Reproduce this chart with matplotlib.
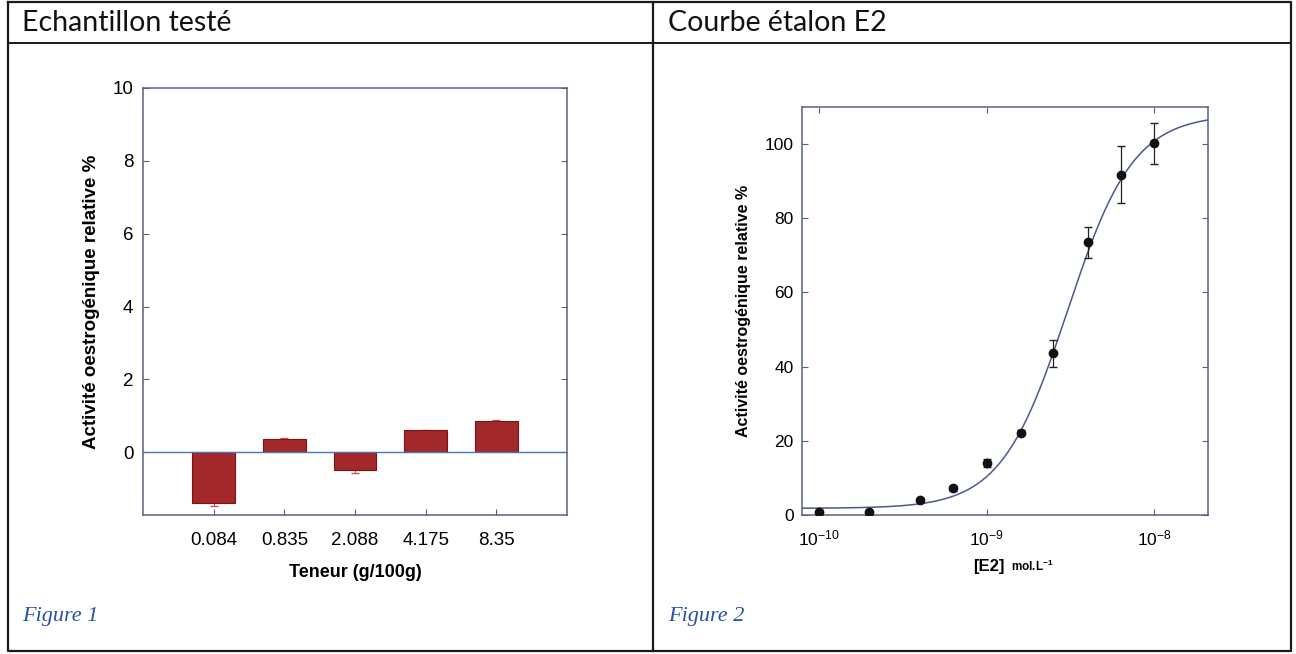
import numpy as np
import matplotlib
matplotlib.use("Agg")
import matplotlib.pyplot as plt

plt.rcParams['font.family'] = ['Liberation Sans', 'DejaVu Sans']
plt.rcParams['mathtext.default'] = 'regular'
plt.rcParams['axes.unicode_minus'] = False

# Figure 1 : échantillon testé
teneurs = ['0.084', '0.835', '2.088', '4.175', '8.35']
activite = [-1.39, 0.37, -0.48, 0.60, 0.85]
activite_err = [0.07, 0.03, 0.10, 0.02, 0.03]

# Figure 2 : courbe étalon E2
e2_conc = [1e-10, 2e-10, 4e-10, 6.3e-10, 1e-9, 1.6e-9, 2.5e-9, 4e-9, 6.3e-9, 1e-8]
e2_act = [0.9, 0.7, 4.0, 7.2, 14.0, 22.2, 43.6, 73.5, 91.7, 100.2]
e2_err = [0.3, 0.3, 0.5, 0.6, 1.0, 0.6, 3.6, 4.2, 7.7, 5.5]
# paramètres de l'ajustement logistique
fit_bas, fit_haut, fit_ec50, fit_hill = 1.8, 108.0, 3.03e-9, 2.2

W, H = 1296, 654
fig = plt.figure(figsize=(W / 100, H / 100), dpi=100)


def px_axes(l, t, r, b):
    return fig.add_axes([l / W, (H - b) / H, (r - l) / W, (b - t) / H])


# tableau (cadre)
bg = fig.add_axes([0, 0, 1, 1], zorder=-5)
bg.set_xlim(0, W)
bg.set_ylim(H, 0)
bg.axis('off')
lc = '#1a1a1a'
bg.plot([8, 1291, 1291, 8, 8], [2, 2, 651, 651, 2], color=lc, lw=1.6)
bg.plot([8, 1291], [43, 43], color=lc, lw=1.4)
bg.plot([653, 653], [2, 651], color=lc, lw=1.6)
bg.text(22, 23, 'Echantillon testé', fontsize=20.5, family='Lato', va='center', ha='left', color='#111')
bg.text(668, 23, 'Courbe étalon E2', fontsize=20.5, family='Lato', va='center', ha='left', color='#111')
bg.text(22, 616, 'Figure 1', fontsize=16, family='Liberation Serif', style='italic', va='center', color='#2a52a0')
bg.text(668, 616, 'Figure 2', fontsize=16, family='Liberation Serif', style='italic', va='center', color='#2a52a0')

spine_c = '#56627e'

# ---- Figure 1 : barres
ax1 = px_axes(143, 88, 567, 515)
pos = np.arange(1, len(teneurs) + 1)
ax1.errorbar(pos, activite, yerr=activite_err, fmt='none', ecolor='#d0505a', elinewidth=0.8, capsize=3, zorder=1)
ax1.bar(pos, activite, width=0.6, color='#a3282a', edgecolor='#7a1414', linewidth=0.8, zorder=2)
ax1.axhline(0, color='#4f73b8', lw=1, zorder=3)
ax1.set_xlim(0, 6)
ax1.set_ylim(-1.72, 10)
ax1.set_yticks([0, 2, 4, 6, 8, 10])
ax1.set_xticks(pos)
ax1.set_xticklabels(teneurs)
ax1.tick_params(axis='y', direction='in', left=True, right=True, length=4, labelsize=13.5, pad=7, color=spine_c)
ax1.tick_params(axis='x', direction='in', length=4, labelsize=13.5, pad=12, color=spine_c)
for s in ax1.spines.values():
    s.set_color(spine_c)
    s.set_linewidth(1.1)
ax1.set_xlabel('Teneur (g/100g)', fontsize=13, fontweight='bold', labelpad=11)
ax1.set_ylabel('Activité oestrogénique relative %', fontsize=13.5, fontweight='bold', labelpad=9)

# ---- Figure 2 : courbe étalon
ax2 = px_axes(802, 107, 1208, 515)
xs = np.logspace(-10.1, -7.68, 300)
ys = fit_bas + (fit_haut - fit_bas) / (1 + (fit_ec50 / xs) ** fit_hill)
ax2.plot(xs, ys, color='#4a5a8c', lw=1.1, zorder=2)
ax2.errorbar(e2_conc, e2_act, yerr=e2_err, fmt='o', color='#111111', ms=6,
             ecolor='#222222', elinewidth=0.9, capsize=3, zorder=3)
ax2.set_xscale('log')
ax2.set_xlim(10 ** -10.1, 10 ** -7.68)
ax2.set_ylim(0, 110)
ax2.set_xticks([1e-10, 1e-9, 1e-8])
ax2.set_xticklabels(['$10^{-10}$', '$10^{-9}$', '$10^{-8}$'])
ax2.xaxis.set_minor_locator(matplotlib.ticker.NullLocator())
ax2.set_yticks([0, 20, 40, 60, 80, 100])
ax2.tick_params(axis='both', direction='in', top=True, right=True, length=4, labelsize=12.5, color=spine_c)
ax2.tick_params(axis='x', pad=10)
ax2.tick_params(axis='y', pad=6)
for s in ax2.spines.values():
    s.set_color(spine_c)
    s.set_linewidth(1.1)
ax2.set_ylabel('Activité oestrogénique relative %', fontsize=11.5, fontweight='bold', labelpad=10)
fig.text(1005 / W, (H - 571) / H, '[E2]', fontsize=12, fontweight='bold', ha='right', va='baseline')
fig.text(1011 / W, (H - 571) / H, 'mol.L$^{-1}$', fontsize=8.5, fontweight='bold', ha='left', va='baseline')

fig.savefig('out.png', dpi=100)
